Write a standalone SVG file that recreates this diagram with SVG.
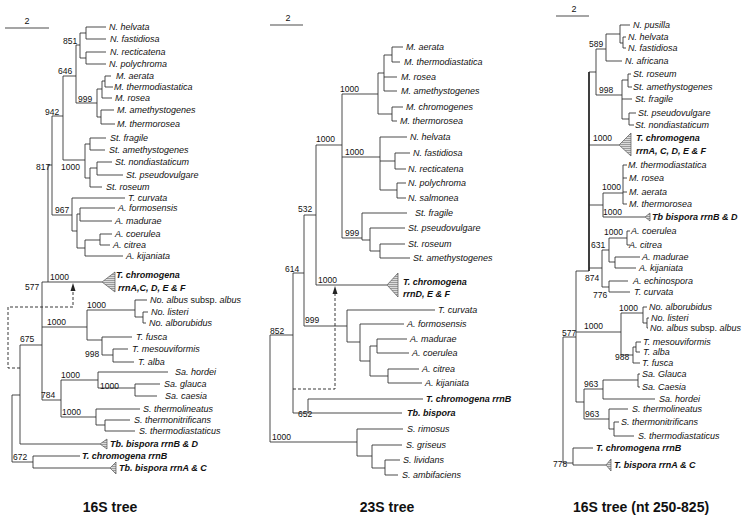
<svg xmlns="http://www.w3.org/2000/svg" width="746" height="523" viewBox="0 0 746 523">
<style>
.l{stroke:#2a2a2a;stroke-width:0.85;fill:none}
.k{stroke:#2a2a2a;stroke-width:1.8;fill:none}
.d{stroke:#222;stroke-width:0.9;fill:none;stroke-dasharray:3 2}
.t{font-family:"Liberation Sans",Arial,sans-serif;font-size:9px;font-style:italic;fill:#111}
.b{font-family:"Liberation Sans",Arial,sans-serif;font-size:9px;font-style:italic;font-weight:bold;fill:#111}
.n{font-family:"Liberation Sans",Arial,sans-serif;font-size:8.5px;fill:#111}
.s{font-family:"Liberation Sans",Arial,sans-serif;font-size:9px;fill:#111;text-anchor:middle}
.h{font-family:"Liberation Sans",Arial,sans-serif;font-size:14px;font-weight:bold;fill:#111;text-anchor:middle}
.r{font-style:normal}
.tri{fill:url(#hatch);stroke:#555;stroke-width:0.7}
</style>
<defs>
<pattern id="hatch" width="3" height="2" patternUnits="userSpaceOnUse"><rect width="3" height="2" fill="#dcdcdc"/><path d="M0,0.5H3" stroke="#8a8a8a" stroke-width="0.8"/></pattern>
</defs>
<rect width="746" height="523" fill="#fff"/>

<g id="connectors">
<!-- tree 1 -->
<path class="l" d="M5,28H49"/>
<path class="l" d="M86,27V39M86,27H106M86,39H106M86,52V64M86,52H106M86,64H106M80,33V58M80,33H86M80,58H86M76,45V103M76,45H80
M105,76V87M105,76H111M105,87H113M102,81V98M102,81H105M102,98H112M101,110V124M101,110H114M101,124H115M97,89V117M97,89H102M97,117H101M76,103H97
M63,76V160M63,76H76M52,116H63
M63,160H85M85,144V178M85,144H90M90,138V150M90,138H106M90,150H105M85,178H90M90,168V187M90,168H97M97,162V175M97,162H112M97,175H123M90,187H102
M52,116V215M48,165H52
M52,215H72M72,198V231M72,198H125M72,231H77M77,214V248M77,214H80M80,208V221M80,208H115M80,221H112M77,248H85M85,240V256M85,240H100M100,234V245M100,234H112M100,245H110M85,256H123
M48,165V282M42,282H102
M42,282V400M20,345H42
M42,327H87M87,310V340M87,310H135M135,300V317M135,300H147M135,317H143M143,312V323M143,312H148M143,323H146
M87,340H102M102,337V355M102,337H132M102,355H113M113,349V362M113,349H128M113,362H134
M42,400H61M61,380V417M61,380H98M98,372V388M98,372H168M98,388H135M135,384V396M135,384H160M135,396H157M61,417H96M96,409V425M96,409H140M96,425H105M105,420V431M105,420H130M105,431H135
M20,444H100M20,345V444M12,395H20M12,395V462M12,462H33M33,456V468M33,456H80M33,468H110"/>
<path class="d" d="M20,368H8V307H73V290"/>
<polygon points="73,283 70.5,291 75.5,291" fill="#222"/>
<!-- tree 2 -->
<path class="l" d="M270,25H303"/>
<path class="l" d="M392,47V62M392,47H403M392,62H400M384,55V91M384,55H392M384,77H397M384,91H397M392,107V121M392,107H403M392,121H397M378,73V114M378,73H384M378,114H392M342,94H378
M342,157H380M380,137V190M380,137H407M380,161H395M395,153V169M395,153H410M395,169H406M380,190H397M397,183V198M397,183H406M397,198H406
M342,238H362M362,213V240M362,213H407M362,240H370M370,228V251M370,228H405M370,251H380M380,244V258M380,244H405M380,258H410
M342,94V238M316,145H342
M316,145V285M316,285H387
M304,215H316M304,215V326M293,273H304
M304,326H347M347,310V342M347,310H435M347,342H360M360,324V361M360,324H404M360,361H370M370,346V376M370,346H377M377,339V353M377,339H407M377,353H409M370,376H388M388,369V383M388,369H419M388,383H422
M293,273V413M270,335H293M293,413H308M308,399V413M308,399H423M308,413H402
M270,335V442M270,442H357M357,429V456M357,429H403M357,456H372M372,445V468M372,445H402M372,468H385M385,460V475M385,460H400M385,475H398"/>
<path class="d" d="M293,389H335V294"/>
<polygon points="335,286 332.5,294 337.5,294" fill="#222"/>
<!-- tree 3 -->
<path class="l" d="M556,16H589"/>
<path class="l" d="M620,25V43M620,25H630M623,37V48M623,37H626M623,48H626M620,43H623M606,34V61M606,34H620M606,61H622M596,49H606
M596,95H622M622,80V119M622,80H628M628,74V87M628,74H631M628,87H632M622,99H632M622,119H629M629,113V125M629,113H636M629,125H634
M596,49V95M589,72H596
M589,145H619
M589,205H603M603,193V217M603,193H623M623,165V204M623,165H627M623,178H627M623,192H627M623,204H627M603,217H645
M589,268H602M602,250V287M602,250H609M609,238V262M609,238H627M627,231V245M627,231H630M627,245H630M609,262H615M615,257V268M615,257H640M615,268H636M602,287H609M609,281V292M609,281H628M609,292H630
M576,271H589M576,271V402M563,337H576
M576,332H621M621,313V355M621,313H643M643,307V323M643,307H647M643,323H647M647,318V328M647,318H649M647,328H648M621,355H633M633,347V363M633,347H636M636,342V352M636,342H641M636,352H640M633,363H640
M576,402H584M584,389V419M584,389H603M603,380V399M603,380H638M638,374V387M638,374H640M638,387H640M603,399H655M584,419H609M609,409V429M609,409H628M609,429H614M614,422V436M614,422H619M614,436H634
M563,337V463M563,463H573M573,448V465M573,448H593M573,465H606"/>
<path class="k" d="M589,72V271"/>
</g>

<g id="scale-bars">
<text class="s" x="27" y="24">2</text>
<text class="s" x="288" y="21">2</text>
<text class="s" x="574" y="12">2</text>
</g>

<g id="tree1-support">
<text class="n" x="63" y="44">851</text>
<text class="n" x="58" y="74">646</text>
<text class="n" x="78" y="102">999</text>
<text class="n" x="45" y="115">942</text>
<text class="n" x="36" y="170">817</text>
<text class="n" x="61" y="170">1000</text>
<text class="n" x="55" y="213">967</text>
<text class="n" x="50" y="280">1000</text>
<text class="n" x="25" y="290">577</text>
<text class="n" x="87" y="308">1000</text>
<text class="n" x="47" y="325">1000</text>
<text class="n" x="20" y="342">675</text>
<text class="n" x="85" y="357">998</text>
<text class="n" x="61" y="378">1000</text>
<text class="n" x="100" y="389">1000</text>
<text class="n" x="41" y="398">784</text>
<text class="n" x="62" y="415">1000</text>
<text class="n" x="13" y="460">672</text>
</g>
<g id="tree2-support">
<text class="n" x="340" y="92">1000</text>
<text class="n" x="316" y="142">1000</text>
<text class="n" x="345" y="155">1000</text>
<text class="n" x="345" y="236">999</text>
<text class="n" x="298" y="212">532</text>
<text class="n" x="318" y="283">1000</text>
<text class="n" x="285" y="272">614</text>
<text class="n" x="305" y="323">999</text>
<text class="n" x="270" y="334">852</text>
<text class="n" x="298" y="417">652</text>
<text class="n" x="272" y="440">1000</text>
</g>
<g id="tree3-support">
<text class="n" x="589" y="47">589</text>
<text class="n" x="599" y="93">998</text>
<text class="n" x="593" y="141">1000</text>
<text class="n" x="602" y="190">1000</text>
<text class="n" x="603" y="215">1000</text>
<text class="n" x="604" y="235">1000</text>
<text class="n" x="591" y="248">631</text>
<text class="n" x="585" y="281">874</text>
<text class="n" x="593" y="298">776</text>
<text class="n" x="584" y="329">1000</text>
<text class="n" x="619" y="311">1000</text>
<text class="n" x="562" y="336">577</text>
<text class="n" x="615" y="360">988</text>
<text class="n" x="584" y="387">963</text>
<text class="n" x="585" y="417">963</text>
<text class="n" x="553" y="467">778</text>
</g>

<!-- tree 1 nodes -->
<g id="t1-n-helvata"><text class="t" x="109" y="30">N. helvata</text></g>
<g id="t1-n-fastidiosa"><text class="t" x="110" y="42">N. fastidiosa</text></g>
<g id="t1-n-recticatena"><text class="t" x="110" y="55">N. recticatena</text></g>
<g id="t1-n-polychroma"><text class="t" x="109" y="67">N. polychroma</text></g>
<g id="t1-m-aerata"><text class="t" x="116" y="79">M. aerata</text></g>
<g id="t1-m-thermodiastatica"><text class="t" x="114" y="90">M. thermodiastatica</text></g>
<g id="t1-m-rosea"><text class="t" x="115" y="101">M. rosea</text></g>
<g id="t1-m-amethystogenes"><text class="t" x="117" y="113">M. amethystogenes</text></g>
<g id="t1-m-thermorosea"><text class="t" x="117" y="127">M. thermorosea</text></g>
<g id="t1-st-fragile"><text class="t" x="110" y="141">St. fragile</text></g>
<g id="t1-st-amethystogenes"><text class="t" x="109" y="153">St. amethystogenes</text></g>
<g id="t1-st-nondiastaticum"><text class="t" x="115" y="165">St. nondiastaticum</text></g>
<g id="t1-st-pseudovulgare"><text class="t" x="126" y="178">St. pseudovulgare</text></g>
<g id="t1-st-roseum"><text class="t" x="106" y="190">St. roseum</text></g>
<g id="t1-t-curvata"><text class="t" x="128" y="201">T. curvata</text></g>
<g id="t1-a-formosensis"><text class="t" x="118" y="211">A. formosensis</text></g>
<g id="t1-a-madurae"><text class="t" x="115" y="224">A. madurae</text></g>
<g id="t1-a-coerulea"><text class="t" x="115" y="237">A. coerulea</text></g>
<g id="t1-a-citrea"><text class="t" x="113" y="248">A. citrea</text></g>
<g id="t1-a-kijaniata"><text class="t" x="126" y="259">A. kijaniata</text></g>
<g id="t1-t-chromogena"><polygon class="tri" points="102,282 115,272 115,292"/><text class="b" x="116" y="278">T. chromogena</text><text class="b" x="118" y="291">rrnA,C, D, E &amp; F</text></g>
<g id="t1-no-albus"><text class="t" x="150" y="303">No. albus <tspan class="r">subsp.</tspan> albus</text></g>
<g id="t1-no-listeri"><text class="t" x="151" y="315">No. listeri</text></g>
<g id="t1-no-alborubidus"><text class="t" x="149" y="326">No. alborubidus</text></g>
<g id="t1-t-fusca"><text class="t" x="136" y="340">T. fusca</text></g>
<g id="t1-t-mesouviformis"><text class="t" x="132" y="352">T. mesouviformis</text></g>
<g id="t1-t-alba"><text class="t" x="138" y="365">T. alba</text></g>
<g id="t1-sa-hordei"><text class="t" x="175" y="375">Sa. hordei</text></g>
<g id="t1-sa-glauca"><text class="t" x="164" y="387">Sa. glauca</text></g>
<g id="t1-sa-caesia"><text class="t" x="165" y="399">Sa. caesia</text></g>
<g id="t1-s-thermolineatus"><text class="t" x="143" y="412">S. thermolineatus</text></g>
<g id="t1-s-thermonitrificans"><text class="t" x="134" y="423">S. thermonitrificans</text></g>
<g id="t1-s-thermodiastaticus"><text class="t" x="139" y="434">S. thermodiastaticus</text></g>
<g id="t1-tb-bispora-bd"><polygon class="tri" points="100,444 107,439 107,449"/><text class="b" x="110" y="447">Tb. bispora rrnB &amp; D</text></g>
<g id="t1-t-chromogena-b"><text class="b" x="82" y="459">T. chromogena rrnB</text></g>
<g id="t1-tb-bispora-ac"><polygon class="tri" points="110,468 116,462 116,474"/><text class="b" x="119" y="471">Tb. bispora rrnA &amp; C</text></g>

<!-- tree 2 nodes -->
<g id="t2-m-aerata"><text class="t" x="406" y="50">M. aerata</text></g>
<g id="t2-m-thermodiastatica"><text class="t" x="404" y="65">M. thermodiastatica</text></g>
<g id="t2-m-rosea"><text class="t" x="401" y="80">M. rosea</text></g>
<g id="t2-m-amethystogenes"><text class="t" x="401" y="94">M. amethystogenes</text></g>
<g id="t2-m-chromogenes"><text class="t" x="406" y="110">M. chromogenes</text></g>
<g id="t2-m-thermorosea"><text class="t" x="400" y="124">M. thermorosea</text></g>
<g id="t2-n-helvata"><text class="t" x="410" y="140">N. helvata</text></g>
<g id="t2-n-fastidiosa"><text class="t" x="413" y="156">N. fastidiosa</text></g>
<g id="t2-n-recticatena"><text class="t" x="408" y="172">N. recticatena</text></g>
<g id="t2-n-polychroma"><text class="t" x="408" y="186">N. polychroma</text></g>
<g id="t2-n-salmonea"><text class="t" x="408" y="201">N. salmonea</text></g>
<g id="t2-st-fragile"><text class="t" x="415" y="216">St. fragile</text></g>
<g id="t2-st-pseudovulgare"><text class="t" x="408" y="231">St. pseudovulgare</text></g>
<g id="t2-st-roseum"><text class="t" x="408" y="247">St. roseum</text></g>
<g id="t2-st-amethystogenes"><text class="t" x="413" y="261">St. amethystogenes</text></g>
<g id="t2-t-chromogena"><polygon class="tri" points="387,285 398,273 398,297"/><text class="b" x="403" y="285">T. chromogena</text><text class="b" x="403" y="297">rrnD, E &amp; F</text></g>
<g id="t2-t-curvata"><text class="t" x="438" y="313">T. curvata</text></g>
<g id="t2-a-formosensis"><text class="t" x="407" y="327">A. formosensis</text></g>
<g id="t2-a-madurae"><text class="t" x="410" y="342">A. madurae</text></g>
<g id="t2-a-coerulea"><text class="t" x="412" y="356">A. coerulea</text></g>
<g id="t2-a-citrea"><text class="t" x="422" y="372">A. citrea</text></g>
<g id="t2-a-kijaniata"><text class="t" x="425" y="386">A. kijaniata</text></g>
<g id="t2-t-chromogena-b"><text class="b" x="426" y="402">T. chromogena rrnB</text></g>
<g id="t2-tb-bispora"><text class="b" x="407" y="416">Tb. bispora</text></g>
<g id="t2-s-rimosus"><text class="t" x="407" y="432">S. rimosus</text></g>
<g id="t2-s-griseus"><text class="t" x="406" y="448">S. griseus</text></g>
<g id="t2-s-lividans"><text class="t" x="403" y="463">S. lividans</text></g>
<g id="t2-s-ambifaciens"><text class="t" x="402" y="478">S. ambifaciens</text></g>

<!-- tree 3 nodes -->
<g id="t3-n-pusilla"><text class="t" x="633" y="28">N. pusilla</text></g>
<g id="t3-n-helvata"><text class="t" x="628" y="40">N. helvata</text></g>
<g id="t3-n-fastidiosa"><text class="t" x="628" y="51">N. fastidiosa</text></g>
<g id="t3-n-africana"><text class="t" x="625" y="64">N. africana</text></g>
<g id="t3-st-roseum"><text class="t" x="633" y="77">St. roseum</text></g>
<g id="t3-st-amethystogenes"><text class="t" x="633" y="90">St. amethystogenes</text></g>
<g id="t3-st-fragile"><text class="t" x="635" y="102">St. fragile</text></g>
<g id="t3-st-pseudovulgare"><text class="t" x="638" y="116">St. pseudovulgare</text></g>
<g id="t3-st-nondiastaticum"><text class="t" x="635" y="128">St. nondiastaticum</text></g>
<g id="t3-t-chromogena"><polygon class="tri" points="619,145 631,133 631,156"/><text class="b" x="636" y="141">T. chromogena</text><text class="b" x="636" y="154">rrnA, C, D, E &amp; F</text></g>
<g id="t3-m-thermodiastatica"><text class="t" x="628" y="168">M. thermodiastatica</text></g>
<g id="t3-m-rosea"><text class="t" x="629" y="181">M. rosea</text></g>
<g id="t3-m-aerata"><text class="t" x="629" y="195">M. aerata</text></g>
<g id="t3-m-thermorosea"><text class="t" x="629" y="207">M. thermorosea</text></g>
<g id="t3-tb-bispora-bd"><polygon class="tri" points="645,217 650,213 650,221"/><text class="b" x="652" y="220">Tb bispora rrnB &amp; D</text></g>
<g id="t3-a-coerulea"><text class="t" x="631" y="234">A. coerulea</text></g>
<g id="t3-a-citrea"><text class="t" x="629" y="248">A. citrea</text></g>
<g id="t3-a-madurae"><text class="t" x="642" y="260">A. madurae</text></g>
<g id="t3-a-kijaniata"><text class="t" x="639" y="271">A. kijaniata</text></g>
<g id="t3-a-echinospora"><text class="t" x="633" y="284">A. echinospora</text></g>
<g id="t3-t-curvata"><text class="t" x="634" y="295">T. curvata</text></g>
<g id="t3-no-alborubidus"><text class="t" x="649" y="310">No. alborubidus</text></g>
<g id="t3-no-listeri"><text class="t" x="651" y="321">No. listeri</text></g>
<g id="t3-no-albus"><text class="t" x="650" y="331">No. albus <tspan class="r">subsp.</tspan> albus</text></g>
<g id="t3-t-mesouviformis"><text class="t" x="643" y="345">T. mesouviformis</text></g>
<g id="t3-t-alba"><text class="t" x="643" y="355">T. alba</text></g>
<g id="t3-t-fusca"><text class="t" x="642" y="366">T. fusca</text></g>
<g id="t3-sa-glauca"><text class="t" x="642" y="377">Sa. Glauca</text></g>
<g id="t3-sa-caesia"><text class="t" x="642" y="390">Sa. Caesia</text></g>
<g id="t3-sa-hordei"><text class="t" x="659" y="402">Sa. hordei</text></g>
<g id="t3-s-thermolineatus"><text class="t" x="632" y="412">S. thermolineatus</text></g>
<g id="t3-s-thermonitrificans"><text class="t" x="621" y="425">S. thermonitrificans</text></g>
<g id="t3-s-thermodiastaticus"><text class="t" x="638" y="439">S. thermodiastaticus</text></g>
<g id="t3-t-chromogena-b"><text class="b" x="596" y="451">T. chromogena rrnB</text></g>
<g id="t3-t-bispora-ac"><polygon class="tri" points="606,465 611,459 611,471"/><text class="b" x="614" y="468">T. bispora rrnA &amp; C</text></g>

<g id="titles">
<text class="h" x="110" y="512">16S tree</text>
<text class="h" x="387" y="512">23S tree</text>
<text class="h" x="641" y="512">16S tree (nt 250-825)</text>
</g>
</svg>
